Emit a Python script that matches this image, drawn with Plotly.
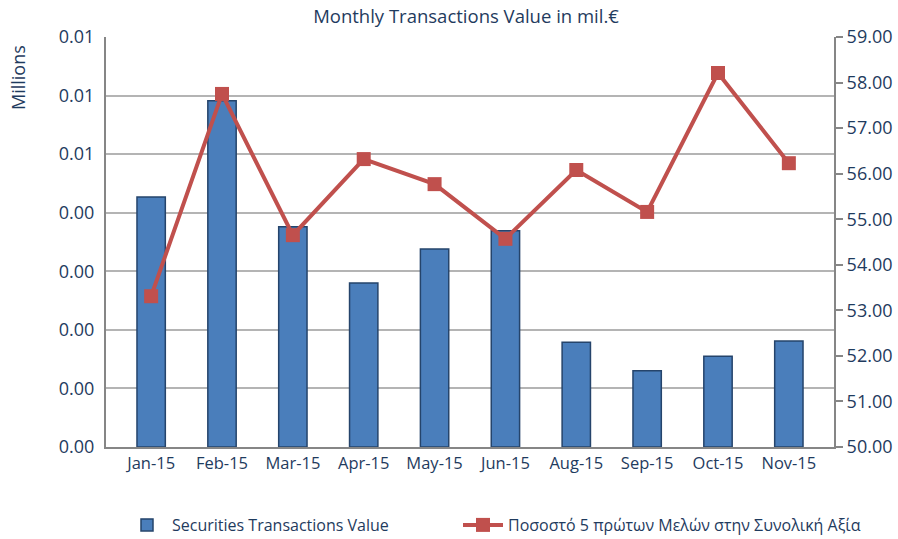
import plotly.graph_objects as go

months = ["Jan-15", "Feb-15", "Mar-15", "Apr-15", "May-15", "Jun-15", "Aug-15", "Sep-15", "Oct-15", "Nov-15"]
transactions_value = [0.00427, 0.00591, 0.00376, 0.00280, 0.00338, 0.00369, 0.00179, 0.00130, 0.00155, 0.00181]
top5_share = [53.31, 57.75, 54.65, 56.32, 55.77, 54.57, 56.08, 55.16, 58.21, 56.23]

font_fam = "Open Sans, sans-serif"
txt = "#1F3B5E"

W, H = 898, 539
L, T, R, B = 106, 37, 64, 92
PW = W - L - R
PH = H - T - B

fig = go.Figure()
fig.add_trace(go.Bar(
    x=months, y=transactions_value, name="Securities Transactions Value",
    marker=dict(color="#4A7EBB", line=dict(color="#25446B", width=1.5)),
    width=0.4, yaxis="y", legend="legend", showlegend=True,
))
fig.add_trace(go.Scatter(
    x=months, y=top5_share, name="Ποσοστό 5 πρώτων Μελών στην Συνολική Αξία",
    mode="lines+markers", line=dict(color="#C0504D", width=4),
    marker=dict(symbol="square", size=14, color="#C0504D"), yaxis="y2", legend="legend2",
    showlegend=True,
))

fig.update_layout(
    width=W, height=H, showlegend=True,
    margin=dict(l=L, r=R, t=T, b=B, autoexpand=False),
    paper_bgcolor="white", plot_bgcolor="white",
    font=dict(family=font_fam, size=15, color=txt),
    title=dict(text="Monthly Transactions Value in mil.€", x=466 / W, xanchor="center",
               y=1 - 17 / H, yanchor="middle", font=dict(size=18.5, color=txt)),
    xaxis=dict(showline=True, linecolor="#868686", linewidth=2, ticks="",
               tickfont=dict(size=16.5, color=txt), showgrid=False, automargin=False),
    yaxis=dict(range=[0, 0.007], dtick=0.001, tickformat=".2f", showgrid=True,
               gridcolor="#B4B4B4", gridwidth=1.5, showline=True, linecolor="#868686",
               linewidth=2, ticks="", tickfont=dict(size=18, color=txt),
               ticklabelstandoff=6, zeroline=False, automargin=False),
    yaxis2=dict(range=[50, 59], dtick=1, tickformat=".2f", overlaying="y", side="right",
                showgrid=False, showline=True, linecolor="#868686", linewidth=2,
                ticks="outside", ticklen=7, tickcolor="#868686", tickwidth=2,
                tickfont=dict(size=18, color=txt), zeroline=False, automargin=False),
    legend=dict(orientation="h", x=(122 - L) / PW, xanchor="left", y=-78 / PH,
                yanchor="middle", font=dict(size=16, color=txt), itemwidth=40),
    legend2=dict(orientation="h", x=(458 - L) / PW, xanchor="left", y=-78 / PH,
                 yanchor="middle", font=dict(size=16, color=txt), itemwidth=40),
    annotations=[dict(text="Millions", textangle=-90, x=(18 - L) / PW, y=(447 - 78) / PH,
                      xref="paper", yref="paper", showarrow=False,
                      font=dict(size=18, color=txt), xanchor="center", yanchor="middle")],
    bargap=0.6,
)
fig.write_html("out.html", config={"displayModeBar": False},
               post_script="document.body.style.margin='0';")
